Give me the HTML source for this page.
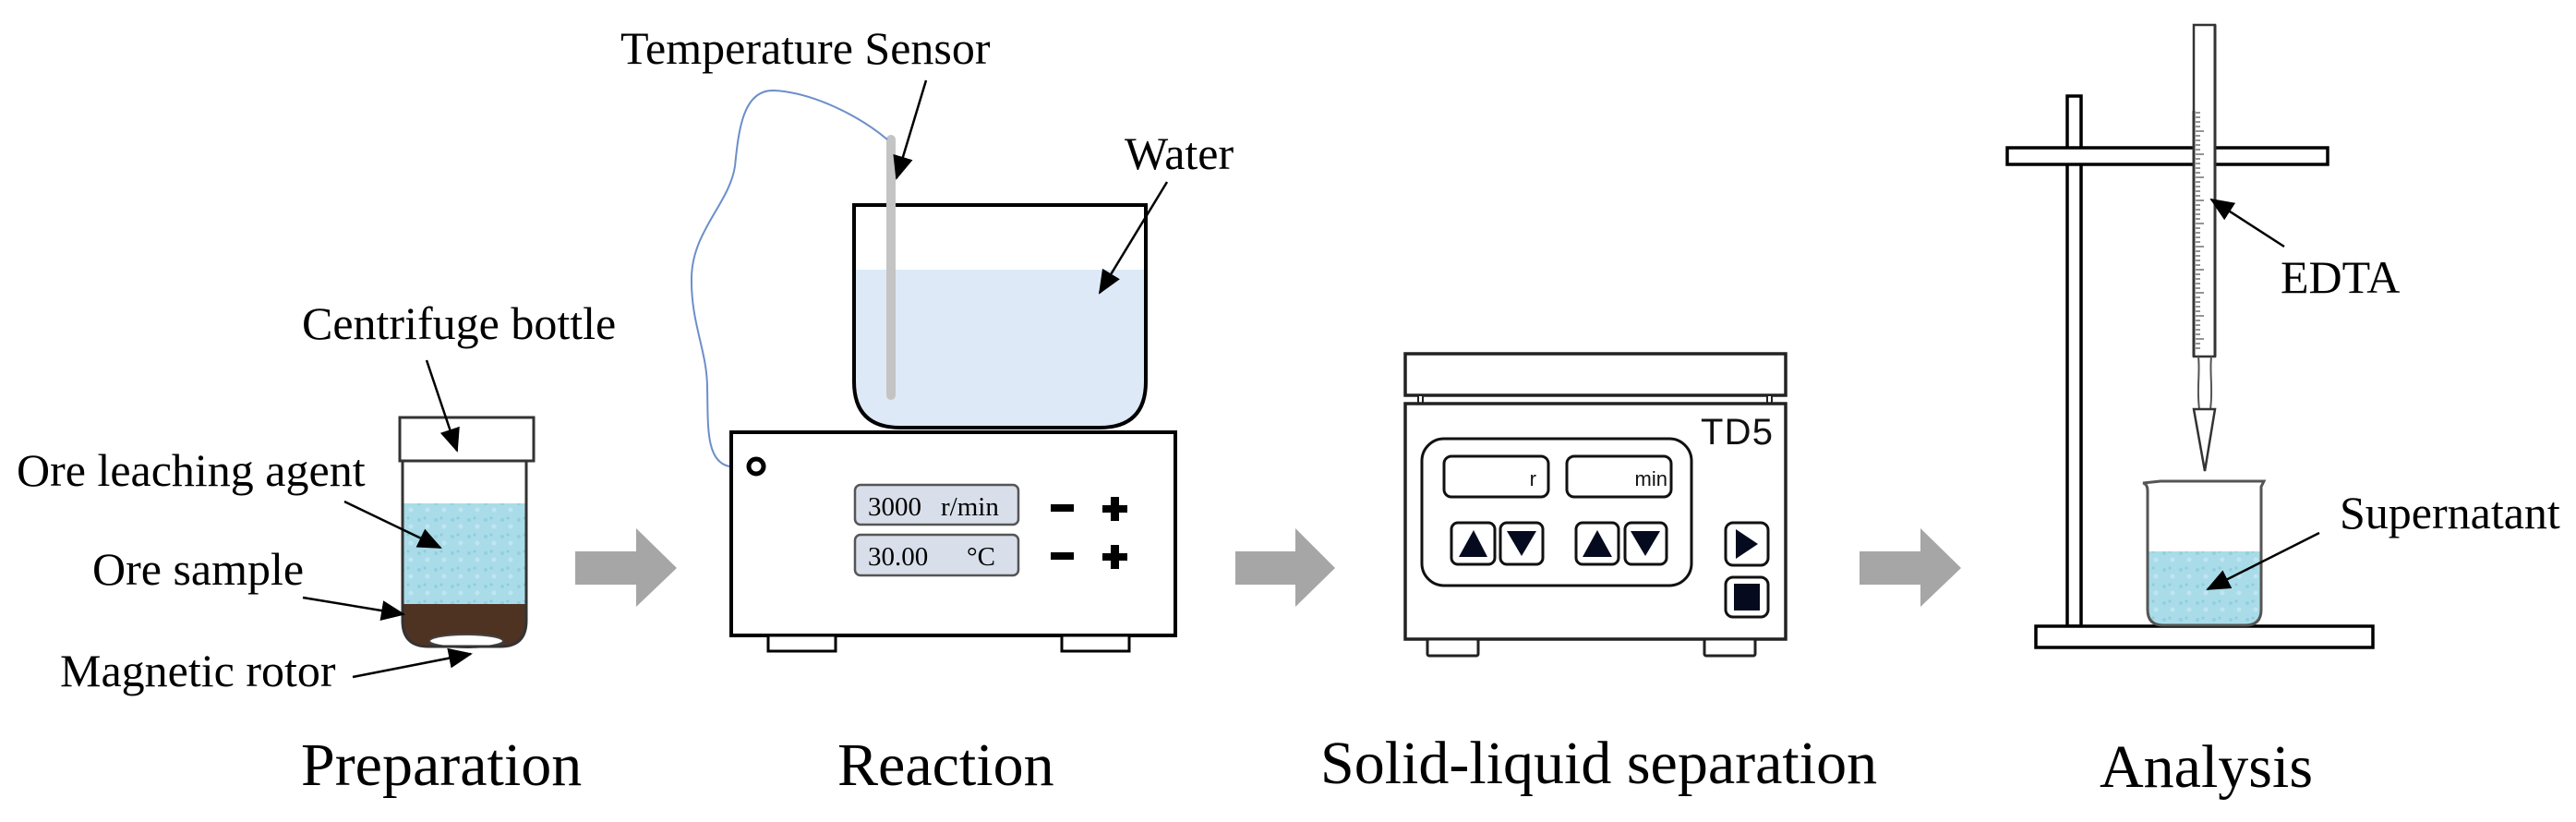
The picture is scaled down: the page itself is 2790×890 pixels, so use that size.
<!DOCTYPE html>
<html><head><meta charset="utf-8"><style>
html,body{margin:0;padding:0;background:#fff;}
svg{display:block;}
.t{font-family:"Liberation Serif",serif;fill:#000;}
.s{font-family:"Liberation Sans",sans-serif;fill:#111;}
</style></head><body>
<svg width="2790" height="890" viewBox="0 0 2790 890" xmlns="http://www.w3.org/2000/svg">
<defs>
<marker id="ah" markerUnits="userSpaceOnUse" markerWidth="26" markerHeight="22" refX="24" refY="11" orient="auto">
<path d="M0,0 L26,11 L0,22 Z" fill="#000"/>
</marker>
<pattern id="bub" width="18" height="18" patternUnits="userSpaceOnUse">
<rect width="18" height="18" fill="#a9dce8"/>
<circle cx="4" cy="5" r="2" fill="#93cfe0"/><circle cx="13" cy="12" r="2.5" fill="#bfe6ef"/><circle cx="10" cy="3" r="1.5" fill="#8fcbdc"/>
</pattern>
</defs>

<!-- ===== Preparation ===== -->
<text class="t" x="327" y="367" font-size="50">Centrifuge bottle</text>
<text class="t" x="18" y="526" font-size="50">Ore leaching agent</text>
<text class="t" x="100" y="633" font-size="50">Ore sample</text>
<text class="t" x="65" y="743" font-size="50">Magnetic rotor</text>
<text class="t" x="326" y="850" font-size="66">Preparation</text>

<!-- bottle -->
<path d="M436,545 H570 V654 H436 Z" fill="url(#bub)"/>
<path d="M436,654 H570 V672 Q570,700 542,700 H464 Q436,700 436,672 Z" fill="#4e3222"/>
<ellipse cx="505" cy="694" rx="40" ry="7" fill="#fff" stroke="#444" stroke-width="2"/>
<path d="M436,499 V672 Q436,700 464,700 H542 Q570,700 570,672 V499" fill="none" stroke="#333" stroke-width="3"/>
<rect x="433" y="452" width="145" height="47" fill="#fff" stroke="#333" stroke-width="3"/>

<line x1="462" y1="390" x2="495" y2="488" stroke="#000" stroke-width="2.5" marker-end="url(#ah)"/>
<line x1="373" y1="543" x2="477" y2="593" stroke="#000" stroke-width="2.5" marker-end="url(#ah)"/>
<line x1="328" y1="647" x2="437" y2="665" stroke="#000" stroke-width="2.5" marker-end="url(#ah)"/>
<line x1="382" y1="733" x2="510" y2="708" stroke="#000" stroke-width="2.5" marker-end="url(#ah)"/>

<!-- gray arrows -->
<path d="M623,597 H689 V572 L733,615 L689,657 V633 H623 Z" fill="#a6a6a6"/>
<path d="M1338,597 H1403 V572 L1446,615 L1403,657 V633 H1338 Z" fill="#a6a6a6"/>
<path d="M2014,597 H2080 V572 L2124,615 L2080,657 V633 H2014 Z" fill="#a6a6a6"/>

<!-- ===== Reaction ===== -->
<text class="t" x="672" y="69" font-size="50">Temperature Sensor</text>
<text class="t" x="1218" y="183" font-size="50">Water</text>
<text class="t" x="907" y="850" font-size="66">Reaction</text>

<path d="M925,292 H1241 V413 Q1241,463 1191,463 H975 Q925,463 925,413 Z" fill="#dde9f6"/>
<path d="M925,222 V413 Q925,463 975,463 H1191 Q1241,463 1241,413 V222 Z" fill="none" stroke="#000" stroke-width="4"/>
<line x1="965" y1="151" x2="965" y2="428" stroke="#c4c4c4" stroke-width="10" stroke-linecap="round"/>
<path d="M961,151 C930,125 880,100 838,98 C805,97 800,140 796,180 C790,220 750,250 749,300 C748,350 766,380 766,420 C767,460 764,500 790,505 L812,505" fill="none" stroke="#6b8fc9" stroke-width="2"/>

<rect x="792" y="468" width="481" height="220" fill="#fff" stroke="#000" stroke-width="4"/>
<rect x="832" y="688" width="73" height="17" fill="#fff" stroke="#000" stroke-width="3"/>
<rect x="1150" y="688" width="73" height="17" fill="#fff" stroke="#000" stroke-width="3"/>
<circle cx="819" cy="505" r="8" fill="#fff" stroke="#000" stroke-width="5"/>

<rect x="926" y="525" width="177" height="43" rx="6" fill="#d8dfea" stroke="#555" stroke-width="2.5"/>
<rect x="926" y="579" width="177" height="44" rx="6" fill="#d8dfea" stroke="#555" stroke-width="2.5"/>
<text class="t" x="940" y="558" font-size="29" fill="#222">3000</text>
<text class="t" x="1019" y="558" font-size="29" fill="#222">r/min</text>
<text class="t" x="940" y="612" font-size="29" fill="#222">30.00</text>
<text class="t" x="1047" y="612" font-size="29" fill="#222">°C</text>
<rect x="1138" y="546" width="25" height="8" fill="#000"/>
<rect x="1138" y="598" width="25" height="8" fill="#000"/>
<rect x="1194" y="547" width="27" height="8" fill="#000"/><rect x="1203" y="538" width="9" height="26" fill="#000"/>
<rect x="1194" y="599" width="27" height="8" fill="#000"/><rect x="1203" y="590" width="9" height="26" fill="#000"/>

<line x1="1003" y1="87" x2="971" y2="193" stroke="#000" stroke-width="2.5" marker-end="url(#ah)"/>
<line x1="1264" y1="197" x2="1191" y2="317" stroke="#000" stroke-width="2.5" marker-end="url(#ah)"/>

<!-- ===== Solid-liquid separation ===== -->
<text class="t" x="1430" y="848" font-size="66">Solid-liquid separation</text>
<rect x="1522" y="383" width="412" height="45" fill="#fff" stroke="#222" stroke-width="3.5"/>
<rect x="1536" y="428" width="5" height="9" fill="#fff" stroke="#222" stroke-width="2"/>
<rect x="1914" y="428" width="5" height="9" fill="#fff" stroke="#222" stroke-width="2"/>
<rect x="1522" y="437" width="412" height="255" fill="#fff" stroke="#222" stroke-width="3.5"/>
<rect x="1546" y="692" width="55" height="18" rx="2" fill="#fff" stroke="#222" stroke-width="3"/>
<rect x="1846" y="692" width="55" height="18" rx="2" fill="#fff" stroke="#222" stroke-width="3"/>
<text class="s" x="1842" y="481" font-size="40" textLength="78">TD5</text>
<rect x="1540" y="475" width="292" height="159" rx="24" fill="#fff" stroke="#111" stroke-width="3"/>
<rect x="1564" y="494" width="113" height="44" rx="8" fill="#fff" stroke="#111" stroke-width="3"/>
<rect x="1697" y="494" width="113" height="44" rx="8" fill="#fff" stroke="#111" stroke-width="3"/>
<text class="s" x="1664" y="526" font-size="22" text-anchor="end">r</text>
<text class="s" x="1806" y="526" font-size="22" text-anchor="end">min</text>
<g stroke="#111" stroke-width="3" fill="#fff">
<rect x="1572" y="566" width="47" height="45" rx="7"/>
<rect x="1625" y="566" width="46" height="45" rx="7"/>
<rect x="1707" y="566" width="46" height="45" rx="7"/>
<rect x="1760" y="566" width="45" height="45" rx="7"/>
<rect x="1869" y="566" width="46" height="46" rx="8"/>
<rect x="1869" y="625" width="46" height="43" rx="8"/>
</g>
<g fill="#050a1e">
<path d="M1580,603 L1596,574 L1611,603 Z"/>
<path d="M1632,575 L1664,575 L1648,602 Z"/>
<path d="M1714,603 L1730,574 L1746,603 Z"/>
<path d="M1766,575 L1798,575 L1782,602 Z"/>
<path d="M1880,573 L1904,589 L1880,605 Z"/>
<rect x="1878" y="632" width="28" height="29"/>
</g>

<!-- ===== Analysis ===== -->
<text class="t" x="2274" y="852" font-size="66">Analysis</text>
<text class="t" x="2470" y="317" font-size="50">EDTA</text>
<text class="t" x="2534" y="572" font-size="50">Supernatant</text>

<rect x="2239" y="104" width="15" height="574" fill="#fff" stroke="#000" stroke-width="3.5"/>
<rect x="2174" y="160" width="347" height="18" fill="#fff" stroke="#000" stroke-width="3.5"/>
<rect x="2205" y="678" width="365" height="23" fill="#fff" stroke="#000" stroke-width="3.5"/>

<!-- burette -->
<rect x="2376" y="27" width="23" height="359" fill="#fff" stroke="#333" stroke-width="2.5"/>
<rect x="2376" y="158" width="23" height="22" fill="#fff" stroke="none"/>
<line x1="2376" y1="120" x2="2376" y2="386" stroke="#333" stroke-width="3"/>
<line x1="2399" y1="27" x2="2399" y2="386" stroke="#333" stroke-width="3"/>
<g stroke="#555" stroke-width="1.3" id="ticks">
<path d="M2378,122h5M2378,127h5M2378,132h5M2378,137h5M2378,142h9M2378,147h5M2378,152h5M2378,157h5M2378,162h5M2378,167h9M2378,172h5M2378,177h5M2378,182h5M2378,187h5M2378,192h9M2378,197h5M2378,202h5M2378,207h5M2378,212h5M2378,217h9M2378,222h5M2378,227h5M2378,232h5M2378,237h5M2378,242h9M2378,247h5M2378,252h5M2378,257h5M2378,262h5M2378,267h9M2378,272h5M2378,277h5M2378,282h5M2378,287h5M2378,292h9M2378,297h5M2378,302h5M2378,307h5M2378,312h5M2378,317h9M2378,322h5M2378,327h5M2378,332h5M2378,337h5M2378,342h9M2378,347h5M2378,352h5M2378,357h5M2378,362h5M2378,367h9M2378,372h5M2378,377h5"/>
</g>
<path d="M2381,386 C2383,405 2379,420 2382,443 M2395,386 C2393,405 2397,420 2394,443" fill="none" stroke="#555" stroke-width="2"/>
<path d="M2376,443 H2399 L2388,510 Z" fill="#fff" stroke="#333" stroke-width="2.5"/>

<!-- beaker -->
<path d="M2326,597 H2449 V660 Q2449,677 2432,677 H2343 Q2326,677 2326,660 Z" fill="url(#bub)"/>
<path d="M2321,523 Q2326,524 2326,532 V660 Q2326,677 2343,677 H2432 Q2449,677 2449,660 V527 L2452,521 H2340 Z" fill="none" stroke="#555" stroke-width="3"/>

<line x1="2474" y1="267" x2="2395" y2="216" stroke="#000" stroke-width="2.5" marker-end="url(#ah)"/>
<line x1="2512" y1="577" x2="2391" y2="638" stroke="#000" stroke-width="2.5" marker-end="url(#ah)"/>
</svg>
</body></html>
